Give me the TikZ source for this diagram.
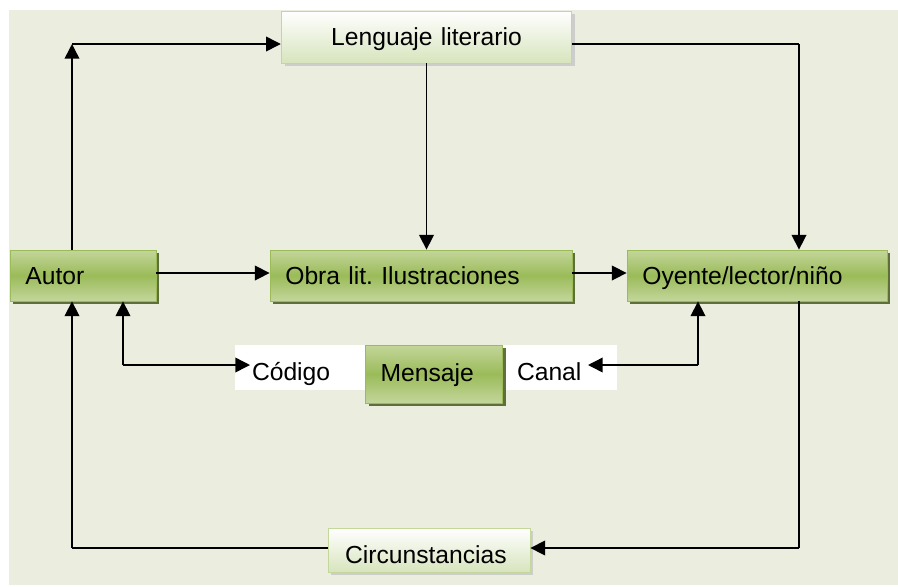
\documentclass[tikz,border=0pt]{standalone}
\usepackage{fontspec}
\setmainfont{Liberation Sans}
\usetikzlibrary{arrows.meta}
\usetikzlibrary{shadows}

\definecolor{bgcol}{HTML}{EBEDDF}
\definecolor{gtop}{HTML}{C3D69B}
\definecolor{gmid}{HTML}{9BBB59}
\definecolor{gdark}{HTML}{4F6228}
\definecolor{lbot}{HTML}{D7E4BD}

\tikzset{
  gbox/.style={draw=gmid, line width=0.6pt, top color=gtop, bottom color=gtop, middle color=gmid,
    minimum height=38.25pt, align=left, inner xsep=11.5pt, text height=15pt, text depth=2pt,
    drop shadow={shadow xshift=2.5pt, shadow yshift=-2.5pt, fill=gdark, opacity=0.9}},
  lbox/.style={draw=gtop, line width=0.6pt, top color=white, bottom color=lbot,
    minimum height=39pt, inner xsep=12pt, text height=14pt, text depth=2pt,
    drop shadow={shadow xshift=2.5pt, shadow yshift=-2.5pt, fill=gray!45, opacity=0.8}},
  wbox/.style={fill=white, minimum height=33.75pt, align=left, inner xsep=12.75pt,
    text height=20pt, text depth=0pt},
  arr/.style={line width=1.1pt, -{Triangle[length=11pt, width=11pt]}},
  lin/.style={line width=1.1pt}
}

\begin{document}
\frenchspacing
\begin{tikzpicture}[x=0.75pt, y=-0.75pt, font=\fontsize{18.5}{22}\selectfont]
    \useasboundingbox (0,0) rectangle (898,586);
    % background
    \fill[bgcol] (9,10) rectangle (898,585);

    % draw boxes
    \node[lbox, text width=194pt, align=center] (leng) at (426.5,37) {Lenguaje literario};
    \node[gbox, text width=86.5pt] (autor) at (83,275.5) {Autor};
    \node[gbox, text width=203.5pt] (obra) at (421,275.5) {Obra lit. Ilustraciones};
    \node[gbox, text width=172pt] (oyente) at (757,275.5) {Oyente/lector/niño};
    \node[wbox, text width=72pt] (codigo) at (300,367.5) {Código};
    \node[wbox, text width=64.5pt, inner xsep=10.5pt] (canal) at (560,367.5) {Canal};
    \node[gbox, text width=80pt, minimum height=43.5pt, text height=13pt] (mensaje) at (434,374) {Mensaje};
    \node[lbox, text width=126pt, minimum height=33pt, align=left, inner xsep=12.75pt,
      text height=20pt, text depth=0.5pt] (circ) at (429,550) {Circunstancias};

    % corners
    \coordinate (tl) at (72,44);
    \coordinate (tr) at (799,44);
    \coordinate (br) at (799,548);
    \coordinate (bl) at (72,548);
    \coordinate (cl) at (123,365);
    \coordinate (cr) at (698,365);

    % draw connectors
    \draw[arr] (autor.north -| tl) -- (tl);
    \draw[arr] (tl) -- (tl -| leng.west);
    \draw[lin] (tr -| leng.east) -- (tr);
    \draw[arr] (tr) -- (tr |- oyente.north);
    \draw[arr] (leng.south) -- (obra.north -| leng.south);
    \draw[arr] (autor.east |- 0,273) -- (obra.west |- 0,273);
    \draw[arr] (obra.east |- 0,273) -- (oyente.west |- 0,273);
    \draw[lin] (oyente.south -| br) -- (br);
    \draw[arr] (br) -- (br -| circ.east);
    \draw[lin] (circ.west |- bl) -- (bl);
    \draw[arr] (bl) -- (bl |- autor.south);
    \draw[arr] (cl) -- (cl |- autor.south);
    \draw[arr] (cl) -- (250,365);
    \draw[arr] (cr) -- (cr |- oyente.south);
    \draw[arr] (cr) -- (588,365);
  \end{tikzpicture}
\end{document}
